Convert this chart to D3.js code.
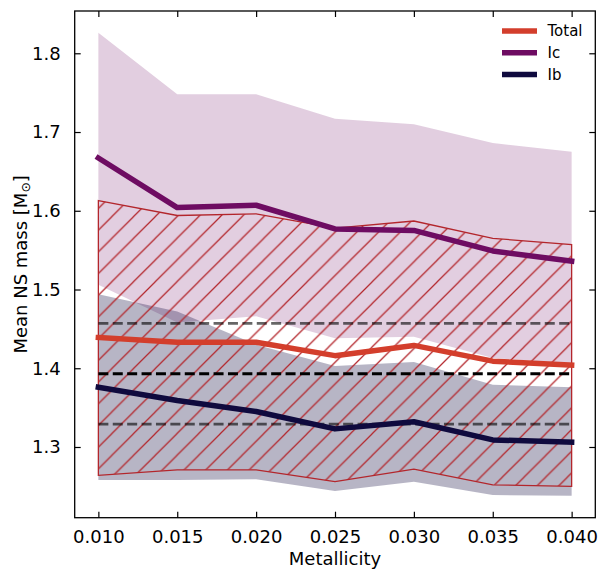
<!DOCTYPE html>
<html>
<head>
<meta charset="utf-8">
<script src="https://cdn.jsdelivr.net/npm/d3@7"></script>
<style>
  html, body { margin: 0; padding: 0; background: #fff; }
  svg { display: block; font-family: "DejaVu Sans", sans-serif; }
</style>
</head>
<body>
<svg id="chart" width="604" height="569"></svg>
<script>
// Metallicity grid
const metallicity = [0.010, 0.015, 0.020, 0.025, 0.030, 0.035, 0.040];

// Total population: mean NS mass and spread
const totalMean  = [1.439, 1.433, 1.433, 1.416, 1.429, 1.409, 1.404];
const totalUpper = [1.613, 1.594, 1.596, 1.578, 1.587, 1.565, 1.557];
const totalLower = [1.264, 1.271, 1.271, 1.256, 1.272, 1.252, 1.250];

// Type Ic
const icMean  = [1.667, 1.604, 1.607, 1.577, 1.575, 1.549, 1.536];
const icUpper = [1.826, 1.748, 1.748, 1.717, 1.710, 1.686, 1.675];
const icLower = [1.506, 1.458, 1.466, 1.438, 1.440, 1.413, 1.406];

// Type Ib
const ibMean  = [1.376, 1.359, 1.345, 1.323, 1.332, 1.309, 1.306];
const ibUpper = [1.494, 1.472, 1.430, 1.403, 1.408, 1.379, 1.376];
const ibLower = [1.258, 1.258, 1.259, 1.244, 1.256, 1.239, 1.238];

// Horizontal reference levels (centre and spread)
const refCentre = [1.393];
const refSpread = [1.457, 1.329];

const xTicks = [0.010, 0.015, 0.020, 0.025, 0.030, 0.035, 0.040];
const yTicks = [1.3, 1.4, 1.5, 1.6, 1.7, 1.8];

const legendNames = ["Total", "Ic", "Ib"];

const colTotal = "#d33e2c";
const colIc = "#6e0c62";
const colIb = "#0f0a3e";
const colHatch = "#b3262c";

const svg = d3.select("#chart");
const pLeft = 74.7, pRight = 595.3, pTop = 11, pBottom = 517.7;

const x = d3.scaleLinear().domain([0.0085, 0.0415]).range([pLeft, pRight]);
const y = d3.scaleLinear().domain([1.2102, 1.8537]).range([pBottom, pTop]);

const defs = svg.append("defs");
// 45-degree hatch for the total spread
const hs = 21.7;
const pat = defs.append("pattern")
  .attr("id", "hatch")
  .attr("patternUnits", "userSpaceOnUse")
  .attr("width", hs).attr("height", hs)
  .attr("x", 3).attr("y", 0);
pat.append("path")
  .attr("d", `M-2,2 L2,-2 M0,${hs} L${hs},0 M${hs - 2},${hs + 2} L${hs + 2},${hs - 2}`)
  .attr("stroke", colHatch)
  .attr("stroke-width", 1.25)
  .attr("fill", "none");

const idx = d3.range(metallicity.length);
const band = (lo, hi) => d3.area()
  .x(i => x(metallicity[i]))
  .y0(i => y(lo[i]))
  .y1(i => y(hi[i]));
const line = vals => d3.line()
  .x(i => x(metallicity[i]))
  .y(i => y(vals[i]));

const plot = svg.append("g");

// Shaded spreads
plot.append("path").attr("d", band(icLower, icUpper)(idx))
  .attr("fill", colIc).attr("fill-opacity", 0.2);
plot.append("path").attr("d", band(ibLower, ibUpper)(idx))
  .attr("fill", colIb).attr("fill-opacity", 0.3);
plot.append("path").attr("d", band(totalLower, totalUpper)(idx))
  .attr("fill", "url(#hatch)")
  .attr("stroke", colHatch).attr("stroke-width", 1.3)
  .attr("stroke-linejoin", "miter");

// Reference levels
const xr = [metallicity[0], metallicity[metallicity.length - 1]];
refSpread.forEach(v => {
  plot.append("line")
    .attr("x1", x(xr[0])).attr("x2", x(xr[1]))
    .attr("y1", y(v)).attr("y2", y(v))
    .attr("stroke", "#000").attr("stroke-opacity", 0.6)
    .attr("stroke-width", 2.8).attr("stroke-dasharray", "10,4.4");
});
refCentre.forEach(v => {
  plot.append("line")
    .attr("x1", x(xr[0])).attr("x2", x(xr[1]))
    .attr("y1", y(v)).attr("y2", y(v))
    .attr("stroke", "#000")
    .attr("stroke-width", 2.8).attr("stroke-dasharray", "10,4.4");
});

// Mean lines
[[totalMean, colTotal], [icMean, colIc], [ibMean, colIb]].forEach(([vals, c]) => {
  plot.append("path").attr("d", line(vals)(idx))
    .attr("fill", "none").attr("stroke", c)
    .attr("stroke-width", 5.5)
    .attr("stroke-linecap", "square")
    .attr("stroke-linejoin", "round");
});

// Axes with inward ticks on all sides
const tickLen = 6;
const fmtX = d3.format(".3f");
const fmtY = d3.format(".1f");
const axB = svg.append("g").attr("transform", `translate(0,${pBottom})`)
  .call(d3.axisBottom(x).tickValues(xTicks).tickFormat(fmtX).tickSizeInner(-tickLen).tickSizeOuter(0).tickPadding(13));
const axT = svg.append("g").attr("transform", `translate(0,${pTop})`)
  .call(d3.axisTop(x).tickValues(xTicks).tickFormat("").tickSizeInner(-tickLen).tickSizeOuter(0));
const axL = svg.append("g").attr("transform", `translate(${pLeft},0)`)
  .call(d3.axisLeft(y).tickValues(yTicks).tickFormat(fmtY).tickSizeInner(-tickLen).tickSizeOuter(0).tickPadding(14));
const axR = svg.append("g").attr("transform", `translate(${pRight},0)`)
  .call(d3.axisRight(y).tickValues(yTicks).tickFormat("").tickSizeInner(-tickLen).tickSizeOuter(0));

[axB, axT, axL, axR].forEach(g => {
  g.select(".domain").remove();
  g.selectAll(".tick line").attr("stroke", "#000").attr("stroke-width", 1.2);
  g.selectAll(".tick text").attr("fill", "#000")
    .style("font-size", "18px").style("font-family", "DejaVu Sans, sans-serif");
});

// Frame
svg.append("rect")
  .attr("x", pLeft).attr("y", pTop)
  .attr("width", pRight - pLeft).attr("height", pBottom - pTop)
  .attr("fill", "none").attr("stroke", "#000").attr("stroke-width", 1.3);

// Axis labels
svg.append("text")
  .attr("x", (pLeft + pRight) / 2).attr("y", 565)
  .attr("text-anchor", "middle")
  .style("font-size", "18px")
  .text("Metallicity");

const yl = svg.append("text")
  .attr("transform", `translate(27,${(pTop + pBottom) / 2}) rotate(-90)`)
  .attr("text-anchor", "middle")
  .style("font-size", "18px");
yl.append("tspan").text("Mean NS mass [M");
yl.append("tspan").attr("baseline-shift", "-25%").style("font-size", "12.5px").text("\u2299");
yl.append("tspan").text("]");

// Legend
const legCols = [colTotal, colIc, colIb];
const leg = svg.append("g");
legendNames.forEach((name, i) => {
  const ly = 31 + i * 21.7;
  leg.append("line")
    .attr("x1", 502).attr("x2", 537)
    .attr("y1", ly).attr("y2", ly)
    .attr("stroke", legCols[i]).attr("stroke-width", 5.5);
  leg.append("text")
    .attr("x", 547.5).attr("y", ly)
    .attr("dy", "0.36em")
    .style("font-size", "15px")
    .text(name);
});
</script>
</body>
</html>
